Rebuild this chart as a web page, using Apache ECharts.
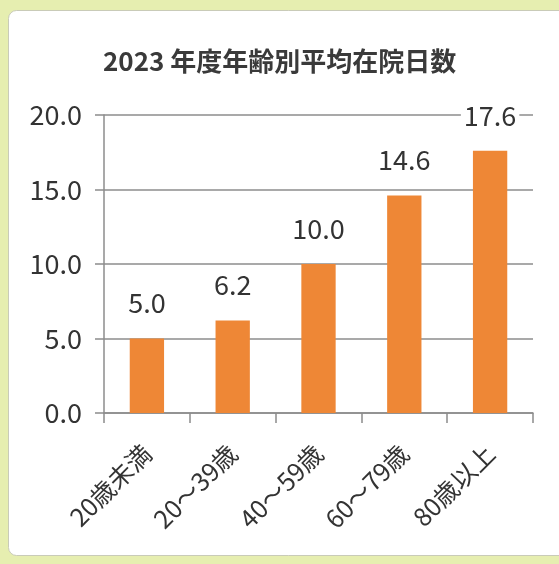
<!DOCTYPE html>
<html>
<head>
<meta charset="utf-8">
<script src="https://cdn.jsdelivr.net/npm/echarts@6/dist/echarts.min.js"></script>
<style>
html,body{margin:0;padding:0;background:#e6eeb0;}
#c{width:559px;height:564px;}
</style>
</head>
<body>
<div id="c"></div>
<script>
const titleText = '2023 年度年齢別平均在院日数';
const categories = ['20歳未満', '20～39歳', '40～59歳', '60～79歳', '80歳以上'];
const values = [5.0, 6.2, 10.0, 14.6, 17.6];
const yTicks = [0, 5, 10, 15, 20];

const FONT = '"Noto Sans CJK JP", "Noto Sans", sans-serif';
const chart = echarts.init(document.getElementById('c'));
chart.setOption({
  backgroundColor: '#e6eeb0',
  animation: false,
  graphic: [{
    type: 'rect', left: 8, top: 10, z: -10,
    shape: { width: 560, height: 545, r: [8, 0, 0, 8] },
    style: { fill: '#ffffff', stroke: '#c9cbb8', lineWidth: 1 }
  }],
  title: {
    text: titleText, left: 98, top: 43,
    textStyle: { fontFamily: FONT, fontSize: 26, fontWeight: 'bold', color: '#3a3a3a' }
  },
  grid: { left: 104, right: 26, top: 115, bottom: 151 },
  xAxis: {
    type: 'category', data: categories,
    axisLine: { lineStyle: { color: '#8c8c8c', width: 1.5 } },
    axisTick: { show: true, length: 10, lineStyle: { color: '#8c8c8c', width: 1.5 } },
    axisLabel: { rotate: 45, fontSize: 25, color: '#333', fontFamily: FONT, margin: 36, interval: 0 }
  },
  yAxis: {
    type: 'value', min: yTicks[0], max: yTicks[yTicks.length - 1], interval: 5,
    axisLine: { show: true, lineStyle: { color: '#8c8c8c', width: 1.5 } },
    axisTick: { show: true, length: 9, lineStyle: { color: '#8c8c8c', width: 1.5 } },
    splitLine: { lineStyle: { color: '#8c8c8c', width: 1.5 } },
    axisLabel: { fontSize: 27, color: '#333', fontFamily: FONT, margin: 22,
      formatter: v => v.toFixed(1) }
  },
  series: [{
    type: 'bar', data: values.map((v, i) => ({
      value: v,
      label: i === values.length - 1 ? { backgroundColor: '#ffffff', padding: [0, 3] } : {}
    })),
    barWidth: '40%',
    itemStyle: { color: '#ee8736' },
    label: {
      show: true, position: 'top', distance: 22, fontSize: 27, color: '#333', fontFamily: FONT,
      formatter: p => p.value.toFixed(1)
    }
  }]
});
</script>
</body>
</html>
